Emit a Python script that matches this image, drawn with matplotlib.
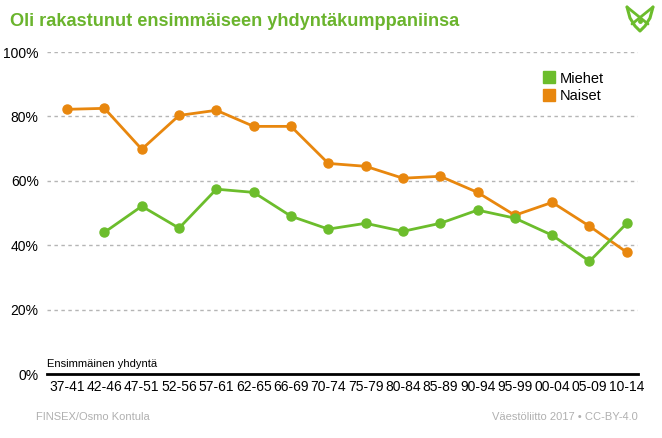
import matplotlib.pyplot as plt
from matplotlib.lines import Line2D

plt.rcParams['font.family'] = ['Liberation Sans', 'DejaVu Sans']

periods = ['37-41', '42-46', '47-51', '52-56', '57-61', '62-65', '66-69', '70-74',
           '75-79', '80-84', '85-89', '90-94', '95-99', '00-04', '05-09', '10-14']
miehet = [None, 44.0, 52.1, 45.3, 57.4, 56.4, 49.0, 45.0,
          46.8, 44.3, 46.8, 50.9, 48.4, 43.1, 35.0, 46.8]
naiset = [82.2, 82.5, 69.8, 80.3, 81.9, 76.9, 76.9, 65.4,
          64.5, 60.8, 61.4, 56.4, 49.3, 53.3, 45.9, 37.8]
yticks = [0, 20, 40, 60, 80, 100]

green = '#6cbd2c'
orange = '#e8870e'

fig = plt.figure(figsize=(6.62, 4.38), dpi=100)
ax = fig.add_axes([47 / 662, 1 - 374 / 438, 591 / 662, 322 / 438])

x = list(range(len(periods)))
mx = [i for i, v in zip(x, miehet) if v is not None]
my = [v for v in miehet if v is not None]

ax.plot(x, naiset, color=orange, lw=2, marker='o', ms=6.5, zorder=3)
ax.plot(mx, my, color=green, lw=2, marker='o', ms=6.5, zorder=4)

ax.set_xlim(-0.54, 15.3)
ax.set_ylim(0, 100)
ax.set_xticks(x)
ax.set_xticklabels(periods, fontsize=10)
ax.set_yticks(yticks)
ax.set_yticklabels([f'{t}%' for t in yticks], fontsize=10)
ax.tick_params(axis='x', length=0, pad=4)
ax.tick_params(axis='y', length=0, pad=6)
for t in yticks[1:]:
    ax.axhline(t, color='#b5b5b5', lw=1, ls=(0, (2.5, 2.5)), zorder=1)
for s in ['top', 'right', 'left']:
    ax.spines[s].set_visible(False)
ax.spines['bottom'].set_linewidth(2)
ax.spines['bottom'].set_color('black')

handles = [Line2D([], [], ls='none', marker='s', ms=9, color=green),
           Line2D([], [], ls='none', marker='s', ms=9, color=orange)]
ax.legend(handles, ['Miehet', 'Naiset'], loc='upper left', bbox_to_anchor=(0.815, 0.98),
          frameon=False, fontsize=10.5, handletextpad=0.2, labelspacing=0.25,
          handlelength=1.0)

ax.text(0, 1.5, 'Ensimmäinen yhdyntä', transform=ax.get_yaxis_transform(),
        fontsize=8, va='bottom', ha='left')

fig.text(10 / 662, 1 - 22 / 438, 'Oli rakastunut ensimmäiseen yhdyntäkumppaniinsa',
         color='#6ab42d', fontsize=13.1, fontweight='bold', va='center')
fig.text(36 / 662, 1 - 417 / 438, 'FINSEX/Osmo Kontula', color='#b0b0b0',
         fontsize=8, va='center')
fig.text(638 / 662, 1 - 417 / 438, 'Väestöliitto 2017 • CC-BY-4.0', color='#b0b0b0',
         fontsize=8, va='center', ha='right')

# logo
def logo_line(px, py, lw):
    fig.add_artist(Line2D([v / 662 for v in px], [1 - v / 438 for v in py],
                          color=green, lw=lw, solid_capstyle='round',
                          solid_joinstyle='round'))

logo_line([627, 630, 635, 640, 645, 650, 653], [7, 18, 26, 31, 26, 18, 7], 2.2)
logo_line([627, 648], [7, 24], 2)
logo_line([653, 632], [7, 24], 2)
fig.add_artist(Line2D([640 / 662], [1 - 21 / 438], marker='o', ms=2.5, color=green))

fig.savefig('out.png', dpi=100)
